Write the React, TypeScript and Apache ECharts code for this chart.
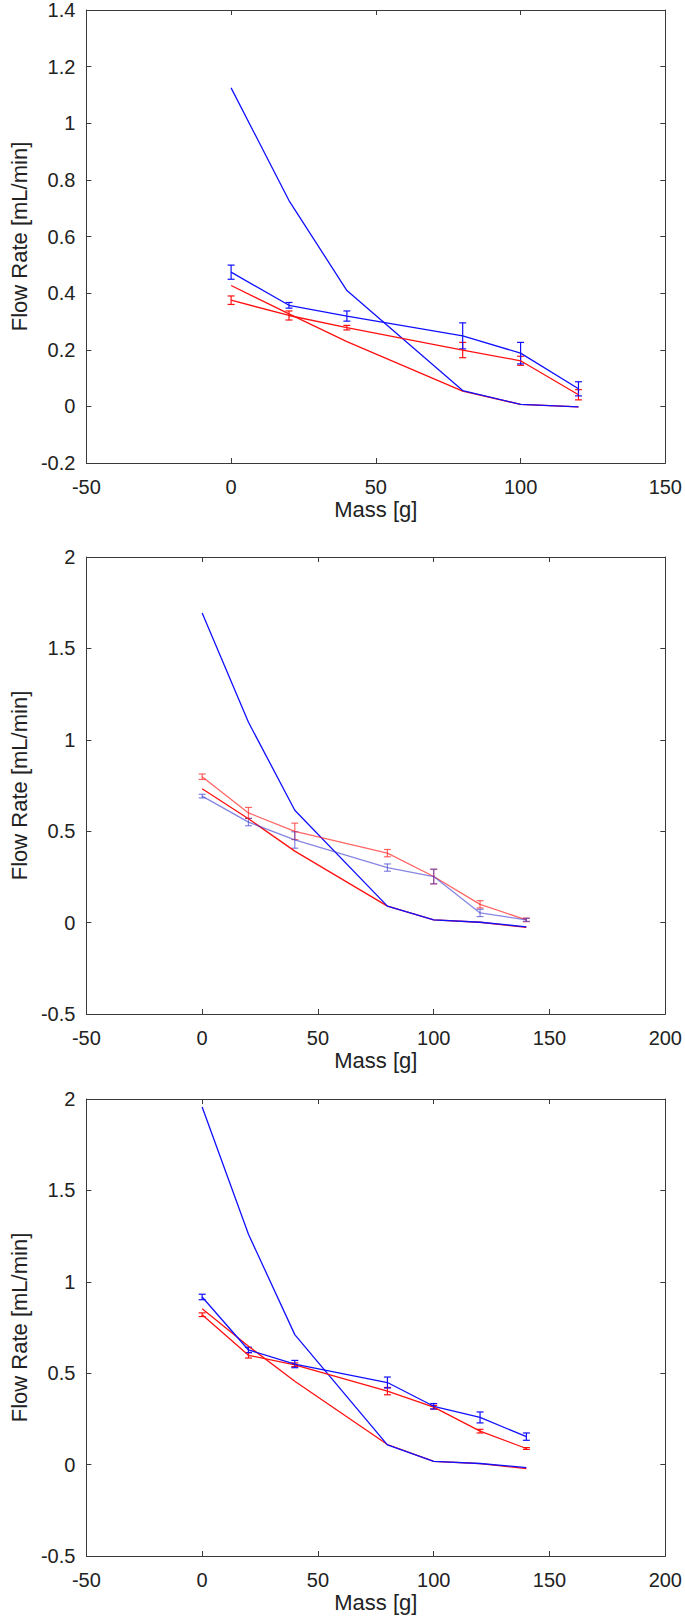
import React, { useEffect, useRef } from "react";
import * as echarts from "echarts";

// ---- data ----
const masses1 = [0, 20, 40, 80, 100, 120];
const masses23 = [0, 20, 40, 80, 100, 120, 140];

// Panel 1
const blueModel1 = [1.125, 0.727, 0.409, 0.056, 0.007, -0.002];
const redModel1 = [0.427, 0.327, 0.229, 0.054, 0.007, -0.002];
const blueData1 = [0.474, 0.357, 0.319, 0.249, 0.188, 0.062];
const blueErr1 = [0.025, 0.01, 0.018, 0.046, 0.038, 0.025];
const redData1 = [0.375, 0.321, 0.278, 0.199, 0.161, 0.041];
const redErr1 = [0.015, 0.016, 0.008, 0.027, 0.016, 0.018];

// Panel 2
const blueModel2 = [1.693, 1.096, 0.615, 0.09, 0.015, 0.002, -0.023];
const redModel2 = [0.732, 0.568, 0.391, 0.09, 0.015, 0.002, -0.026];
const blueData2 = [0.692, 0.55, 0.452, 0.301, 0.252, 0.053, 0.015];
const blueErr2 = [0.01, 0.02, 0.045, 0.02, 0.04, 0.02, 0.008];
const redData2 = [0.798, 0.6, 0.499, 0.38, 0.252, 0.1, 0.015];
const redErr2 = [0.015, 0.03, 0.045, 0.02, 0.04, 0.02, 0.01];

// Panel 3
const blueModel3 = [1.956, 1.26, 0.711, 0.108, 0.018, 0.006, -0.016];
const redModel3 = [0.853, 0.648, 0.456, 0.11, 0.018, 0.005, -0.022];
const blueData3 = [0.917, 0.627, 0.55, 0.449, 0.319, 0.258, 0.153];
const blueErr3 = [0.015, 0.015, 0.02, 0.03, 0.015, 0.03, 0.02];
const redData3 = [0.82, 0.598, 0.546, 0.402, 0.314, 0.183, 0.088];
const redErr3 = [0.01, 0.015, 0.01, 0.02, 0.01, 0.01, 0.005];

const xLabel = "Mass [g]";
const yLabel = "Flow Rate [mL/min]";

const FONT = "'Liberation Sans', Arial, Helvetica, sans-serif";
const AXIS_COLOR = "#3a3a3a";
const TEXT_COLOR = "#222";

const BLUE = "#1010ff";
const RED = "#ff1010";

function pairs(xs: number[], ys: number[]) {
  return xs.map((x, i) => [x, ys[i]]);
}
function errs(xs: number[], ys: number[], es: number[]) {
  return xs.map((x, i) => [x, ys[i] - es[i], ys[i] + es[i]]);
}

export default function App() {
  const ref = useRef<HTMLDivElement>(null);

  useEffect(() => {
    if (!ref.current) return;
    const chart = echarts.init(ref.current, null, { renderer: "svg" });

    const panels = [
      {
        top: 7, height: 456, xMax: 150, yMin: -0.2, yMax: 1.4, yInt: 0.2, xs: masses1,
        bm: blueModel1, rm: redModel1, bd: blueData1, be: blueErr1, rd: redData1, re: redErr1,
        bdColor: BLUE, rdColor: RED,
      },
      {
        top: 557, height: 457, xMax: 200, yMin: -0.5, yMax: 2, yInt: 0.5, xs: masses23,
        bm: blueModel2, rm: redModel2, bd: blueData2, be: blueErr2, rd: redData2, re: redErr2,
        bdColor: "rgba(60,60,210,0.62)", rdColor: "rgba(255,30,30,0.68)",
      },
      {
        top: 1099, height: 457, xMax: 200, yMin: -0.5, yMax: 2, yInt: 0.5, xs: masses23,
        bm: blueModel3, rm: redModel3, bd: blueData3, be: blueErr3, rd: redData3, re: redErr3,
        bdColor: BLUE, rdColor: RED,
      },
    ];

    const grid: any[] = [];
    const xAxis: any[] = [];
    const yAxis: any[] = [];
    const series: any[] = [];

    const lineStyleAxis = { show: true, onZero: false, lineStyle: { color: AXIS_COLOR, width: 1 } };
    const tickIn = { show: true, inside: true, length: 5, lineStyle: { color: AXIS_COLOR, width: 1 } };

    const errRender = (color: string) => (params: any, api: any) => {
      const x = api.value(0);
      const lo = api.value(1);
      const hi = api.value(2);
      const pTop = api.coord([x, hi]);
      const pBot = api.coord([x, lo]);
      const w = 3.5;
      const style = { stroke: color, lineWidth: 1.2 };
      return {
        type: "group",
        children: [
          { type: "line", shape: { x1: pTop[0], y1: pTop[1], x2: pBot[0], y2: pBot[1] }, style },
          { type: "line", shape: { x1: pTop[0] - w, y1: pTop[1], x2: pTop[0] + w, y2: pTop[1] }, style },
          { type: "line", shape: { x1: pBot[0] - w, y1: pBot[1], x2: pBot[0] + w, y2: pBot[1] }, style },
        ],
      };
    };

    panels.forEach((p, i) => {
      grid.push({ left: 81, right: 18, top: p.top, height: p.height, containLabel: false });
      // bottom x axis
      xAxis.push({
        type: "value", gridIndex: i, position: "bottom", min: -50, max: p.xMax, interval: 50,
        axisLine: lineStyleAxis, axisTick: tickIn, splitLine: { show: false },
        axisLabel: { color: TEXT_COLOR, fontSize: 20, fontFamily: FONT, margin: 14 },
        name: xLabel, nameLocation: "middle", nameGap: 35,
        nameTextStyle: { color: TEXT_COLOR, fontSize: 22, fontFamily: FONT },
      });
      // top x axis (ticks only)
      xAxis.push({
        type: "value", gridIndex: i, position: "top", min: -50, max: p.xMax, interval: 50,
        axisLine: lineStyleAxis, axisTick: tickIn, splitLine: { show: false },
        axisLabel: { show: false },
      });
      // left y axis
      yAxis.push({
        type: "value", gridIndex: i, position: "left", min: p.yMin, max: p.yMax, interval: p.yInt,
        axisLine: lineStyleAxis, axisTick: tickIn, splitLine: { show: false },
        axisLabel: { color: TEXT_COLOR, fontSize: 20, fontFamily: FONT, margin: 11 },
        name: yLabel, nameLocation: "middle", nameGap: 56,
        nameTextStyle: { color: TEXT_COLOR, fontSize: 22, fontFamily: FONT },
      });
      // right y axis (ticks only)
      yAxis.push({
        type: "value", gridIndex: i, position: "right", min: p.yMin, max: p.yMax, interval: p.yInt,
        axisLine: lineStyleAxis, axisTick: tickIn, splitLine: { show: false },
        axisLabel: { show: false },
      });

      const xi = i * 2;
      const yi = i * 2;
      const lineBase = {
        type: "line", xAxisIndex: xi, yAxisIndex: yi, symbol: "none", silent: true,
      };
      series.push({ ...lineBase, name: `redModel${i + 1}`, data: pairs(p.xs, p.rm), lineStyle: { color: RED, width: 1.3 } });
      series.push({ ...lineBase, name: `blueModel${i + 1}`, data: pairs(p.xs, p.bm), lineStyle: { color: BLUE, width: 1.3 } });
      series.push({ ...lineBase, name: `redData${i + 1}`, data: pairs(p.xs, p.rd), lineStyle: { color: p.rdColor, width: 1.3 } });
      series.push({ ...lineBase, name: `blueData${i + 1}`, data: pairs(p.xs, p.bd), lineStyle: { color: p.bdColor, width: 1.3 } });
      series.push({
        type: "custom", xAxisIndex: xi, yAxisIndex: yi, silent: true,
        name: `redErr${i + 1}`, data: errs(p.xs, p.rd, p.re),
        encode: { x: 0, y: [1, 2] }, renderItem: errRender(p.rdColor),
      });
      series.push({
        type: "custom", xAxisIndex: xi, yAxisIndex: yi, silent: true,
        name: `blueErr${i + 1}`, data: errs(p.xs, p.bd, p.be),
        encode: { x: 0, y: [1, 2] }, renderItem: errRender(p.bdColor),
      });
    });

    chart.setOption({
      animation: false,
      backgroundColor: "#ffffff",
      textStyle: { fontFamily: FONT },
      grid,
      xAxis,
      yAxis,
      series,
    });

    return () => chart.dispose();
  }, []);

  return (
    <div
      ref={ref}
      style={{ position: "absolute", left: 0, top: 0, width: 685, height: 1623, background: "#fff" }}
    />
  );
}
